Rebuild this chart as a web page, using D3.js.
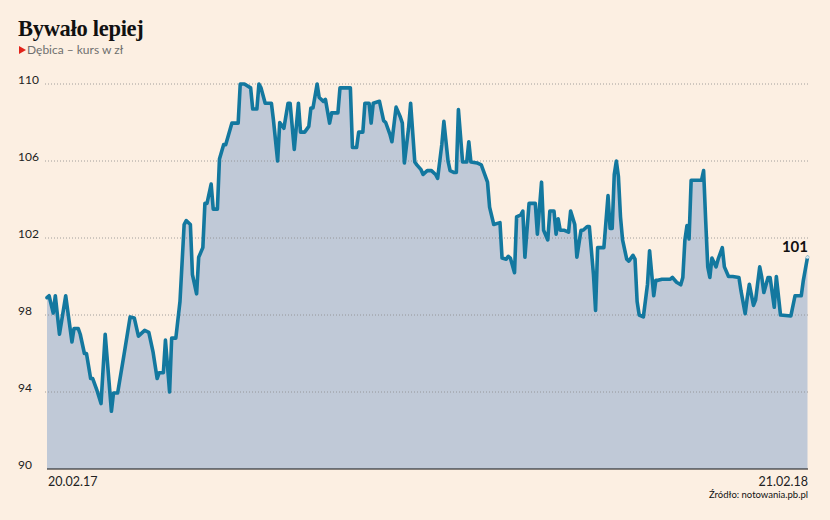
<!DOCTYPE html>
<html><head><meta charset="utf-8">
<script src="https://cdn.jsdelivr.net/npm/d3@7"></script>
<style>
html,body{margin:0;padding:0;background:#fcefe2;}
svg{display:block;}
</style></head>
<body>
<svg id="chart" width="830" height="520"></svg>
<script>
const title = "Bywało lepiej";
const subtitle = "Dębica – kurs w zł";
const source = "Źródło: notowania.pb.pl";
const startDate = "2017-02-20";
const yTicks = [90, 94, 98, 102, 106, 110];
const xTickLabels = ["20.02.17", "21.02.18"];
const lastLabel = "101";
// day offsets from 20.02.17
const days = [0,1,3,4,6,9,12,13,15,16,18,19,21,22,24,26,28,31,32,34,37,40,42,44,47,49,51,53,54,56,57,59,60,62,64,66,67,69,70,72,73,75,76,77,79,80,82,83,85,86,89,92,93,95,98,99,101,102,103,105,108,109,111,112,114,116,117,119,121,122,124,126,127,128,130,131,133,134,136,137,140,141,146,147,149,150,152,153,155,156,157,160,162,163,165,166,168,170,171,172,174,175,177,178,180,181,183,185,187,188,190,191,193,194,196,197,198,200,202,203,204,207,209,210,212,213,215,218,219,221,222,223,225,226,228,229,230,232,235,236,238,239,241,242,244,245,246,247,249,251,252,254,255,257,258,260,261,263,264,265,268,270,271,272,273,274,275,276,277,279,280,282,283,284,285,287,289,290,292,293,294,296,300,301,303,305,306,307,308,309,310,315,316,317,318,319,320,322,323,325,326,328,330,333,334,336,337,338,340,341,343,344,345,347,348,350,351,353,358,360,363,364,366];
const prices = [98.9,99.0,98.1,99.0,97.0,99.0,96.6,97.3,97.3,97.0,96.0,96.0,94.7,94.7,94.1,93.4,97.0,93.0,93.95,93.95,95.9,97.9,97.85,96.9,97.2,97.1,96.1,94.7,95.0,95.0,96.7,94.0,96.8,96.8,98.7,102.7,102.9,102.7,100.1,99.1,101.0,101.5,103.8,103.8,104.8,103.5,103.5,106.1,106.85,106.85,107.97,107.97,110.0,110.0,109.8,108.7,108.7,110.0,109.8,109.0,109.0,108.1,106.0,108.0,107.7,109.0,109.0,106.6,109.0,107.5,107.5,107.8,108.75,108.75,110.0,109.3,109.1,109.2,107.97,108.5,108.5,109.8,109.8,106.7,106.7,107.5,107.5,109.0,109.0,107.97,109.0,109.1,108.1,108.0,107.4,107.0,108.8,108.3,107.97,105.9,107.7,109.0,105.95,105.8,105.55,105.3,105.5,105.5,105.3,105.1,106.85,108.06,106.0,105.5,105.4,105.4,108.67,105.95,105.95,107.0,105.95,105.9,105.8,105.5,104.9,103.6,102.7,102.8,100.96,100.9,101.05,100.96,100.2,103.1,103.2,103.4,101.0,103.8,103.8,102.2,104.9,102.4,101.9,103.4,103.4,102.2,103.0,102.4,102.4,102.3,103.4,102.7,101.0,102.4,102.4,102.6,102.6,100.1,98.24,101.5,101.5,104.2,102.5,102.5,105.3,106.0,105.2,103.1,101.9,100.9,100.8,101.1,100.9,98.7,98.0,97.9,99.6,101.34,99.0,99.8,99.8,99.86,99.86,99.95,99.7,99.57,99.95,101.9,102.65,101.95,105.0,105.0,105.5,102.9,100.5,99.95,100.96,100.5,100.9,101.5,100.5,100.0,100.0,99.95,99.25,98.07,98.9,99.6,98.5,98.77,100.5,99.95,99.17,99.95,99.95,98.4,100.0,98.0,97.95,99.0,99.0,99.8,101.0];

const t0 = d3.timeParse("%Y-%m-%d")(startDate);
const data = days.map((d, i) => ({date: d3.timeDay.offset(t0, d), v: prices[i]}));

const svg = d3.select("#chart");
const W = 830, H = 520;
svg.append("rect").attr("width", W).attr("height", H).attr("fill", "#fcefe2");

const x = d3.scaleTime()
  .domain([t0, d3.timeDay.offset(t0, 366)])
  .range([47, 807.5]);
const y = d3.scaleLinear().domain([90, 110]).range([469, 84]);

// title
svg.append("text").attr("x", 18).attr("y", 36)
  .attr("font-family", "'Liberation Serif', 'DejaVu Serif', serif")
  .attr("font-weight", "bold").attr("font-size", 22.5)
  .attr("letter-spacing", -0.3)
  .attr("fill", "#111").text(title);
svg.append("path").attr("d", "M19,46 L26,50 L19,54 Z").attr("fill", "#e2231a");
svg.append("text").attr("x", 27).attr("y", 54)
  .attr("font-family", "Lato, 'Open Sans', sans-serif").attr("font-size", 12)
  .attr("fill", "#6f6f6f").text(subtitle);

// area
const area = d3.area().x(d => x(d.date)).y0(y(90)).y1(d => y(d.v));
svg.append("path").datum(data).attr("d", area).attr("fill", "#c0c9d7");

// gridlines + labels
const grid = svg.append("g");
yTicks.forEach(t => {
  if (t !== 90) {
    grid.append("line").attr("x1", 45).attr("x2", 808)
      .attr("y1", y(t)).attr("y2", y(t))
      .attr("stroke", "#8c8c8c").attr("stroke-width", 0.8)
      .attr("stroke-dasharray", "1,2");
  }
  grid.append("text").attr("x", 18).attr("y", y(t) - 0.5)
    .attr("font-family", "Lato, 'Open Sans', sans-serif").attr("font-size", 12)
    .attr("fill", "#222").text(t);
});

// line
const line = d3.line().x(d => x(d.date)).y(d => y(d.v));
svg.append("path").datum(data).attr("d", line)
  .attr("fill", "none").attr("stroke", "#13789f")
  .attr("stroke-width", 3.6).attr("stroke-linejoin", "round").attr("stroke-linecap", "round");

// x axis line
svg.append("line").attr("x1", 47).attr("x2", 808).attr("y1", y(90)).attr("y2", y(90))
  .attr("stroke", "#111").attr("stroke-width", 1);

// x labels
svg.append("text").attr("x", 48).attr("y", 486)
  .attr("font-family", "Lato, 'Open Sans', sans-serif").attr("font-size", 12.5)
  .attr("fill", "#222").text(xTickLabels[0]);
svg.append("text").attr("x", 808).attr("y", 486).attr("text-anchor", "end")
  .attr("font-family", "Lato, 'Open Sans', sans-serif").attr("font-size", 12.5)
  .attr("fill", "#222").text(xTickLabels[1]);
svg.append("text").attr("x", 808).attr("y", 498).attr("text-anchor", "end")
  .attr("font-family", "Lato, 'Open Sans', sans-serif").attr("font-size", 9.5)
  .attr("fill", "#111").text(source);

// last value
const last = data[data.length - 1];
svg.append("circle").attr("cx", x(last.date)).attr("cy", y(last.v)).attr("r", 1.6)
  .attr("fill", "#d8e6ee");
svg.append("text").attr("x", 808).attr("y", 252).attr("text-anchor", "end")
  .attr("font-family", "Lato, 'Open Sans', sans-serif").attr("font-weight", "bold")
  .attr("font-size", 15).attr("fill", "#111").text(lastLabel);
</script>
</body></html>
